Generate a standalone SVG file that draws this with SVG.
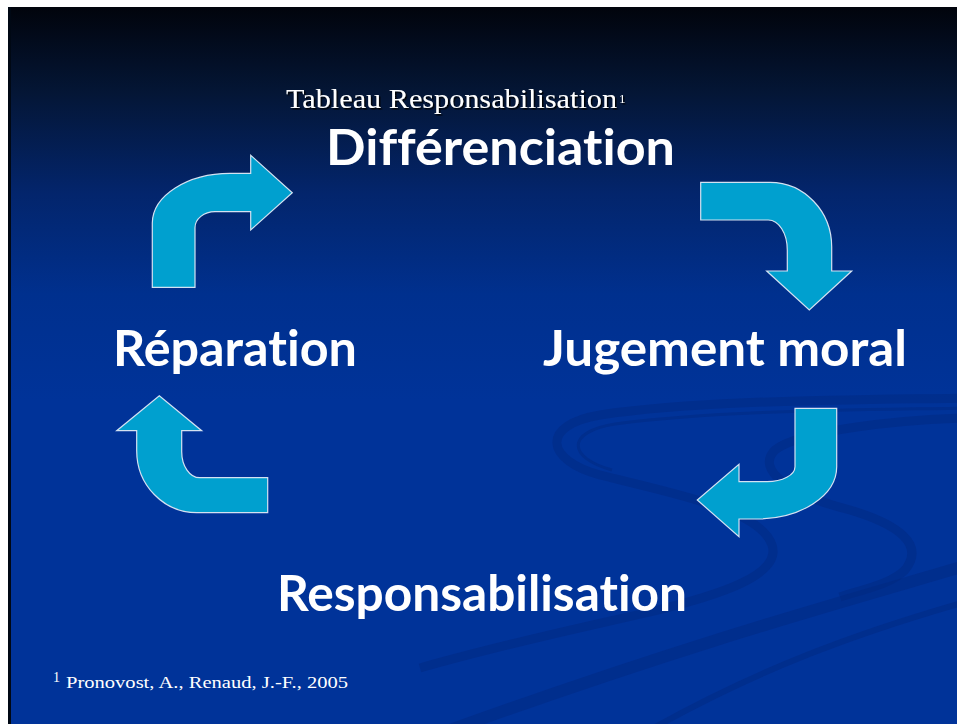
<svg xmlns="http://www.w3.org/2000/svg" width="959" height="724" viewBox="0 0 959 724">
  <defs>
    <linearGradient id="bg" gradientUnits="userSpaceOnUse" x1="0" y1="7" x2="0" y2="724">
      <stop offset="0" stop-color="#01040c"/>
      <stop offset="0.12" stop-color="#041636"/>
      <stop offset="0.26" stop-color="#03256c"/>
      <stop offset="0.40" stop-color="#00308e"/>
      <stop offset="0.55" stop-color="#003399"/>
      <stop offset="1" stop-color="#003399"/>
    </linearGradient>
    <clipPath id="slide">
      <rect x="11" y="7" width="946" height="717"/>
    </clipPath>
    <filter id="shadow" x="-5%" y="-20%" width="110%" height="140%">
      <feDropShadow dx="1.5" dy="1.5" stdDeviation="0.6" flood-color="#000000" flood-opacity="0.9"/>
    </filter>
  </defs>
  <style>
    .arrow { fill: #00a0cf; stroke: #d4e2f2; stroke-width: 1.2; stroke-linejoin: miter; }
    .label { font-family: "Lato", "Open Sans", "DejaVu Sans", sans-serif; font-weight: bold; font-size: 49px; fill: #ffffff; font-variant-ligatures: none; }
    .serif { font-family: "Liberation Serif", "Times New Roman", serif; fill: #ffffff; }
    .swoosh { fill: none; stroke: #00287f; stroke-linecap: butt; opacity: 0.45; }
  </style>

  <!-- page margin and slide background -->
  <rect x="0" y="0" width="959" height="724" fill="#ffffff"/>
  <rect x="8" y="7" width="949" height="717" fill="url(#bg)"/>
  <rect x="8" y="7" width="3" height="717" fill="#000814"/>

  <!-- decorative swooshes of the slide design -->
  <g id="swooshes" clip-path="url(#slide)">
    <path class="swoosh" stroke-width="9" d="M965,398 C850,400 700,400 600,415 C540,425 545,460 600,475 C680,495 760,510 772,545 C782,575 720,595 650,612 C580,628 500,645 420,668"/>
    <path class="swoosh" stroke-width="3" d="M965,408 C860,410 720,410 615,424 C565,432 568,458 612,470"/>
    <path class="swoosh" stroke-width="9" d="M965,418 C900,420 800,430 775,450 C755,470 790,495 850,510 C900,525 925,545 905,570 C890,585 860,590 840,597"/>
    <path class="swoosh" stroke-width="12" d="M965,566 C850,600 700,640 450,730"/>
    <path class="swoosh" stroke-width="6" d="M965,602 C860,632 760,668 650,730"/>
  </g>

  <!-- title -->
  <g id="title" filter="url(#shadow)">
    <text class="serif" x="286" y="108" font-size="28" textLength="331" lengthAdjust="spacingAndGlyphs">Tableau Responsabilisation</text>
    <text class="serif" x="619" y="103" font-size="13">1</text>
  </g>

  <!-- cycle stages -->
  <g id="node-differenciation">
    <text class="label" x="326" y="165" textLength="349" lengthAdjust="spacingAndGlyphs">Différenciation</text>
  </g>
  <g id="node-jugement">
    <text class="label" x="543" y="366" textLength="364" lengthAdjust="spacingAndGlyphs">Jugement moral</text>
  </g>
  <g id="node-responsabilisation">
    <text class="label" x="277" y="611" textLength="410" lengthAdjust="spacingAndGlyphs">Responsabilisation</text>
  </g>
  <g id="node-reparation">
    <text class="label" x="113" y="366" textLength="244" lengthAdjust="spacingAndGlyphs">Réparation</text>
  </g>

  <!-- bent arrows linking the stages -->
  <g id="connectors">
    <path class="arrow" d="M152.3,287.3 L152.3,223 A78,50 0 0 1 230,173.3 L250.7,173.3 L250.7,155.3 L292.3,192.7 L250.7,230 L250.7,211.7 L215,211.7 A20,16 0 0 0 195,227.7 L195,287.3 Z"/>
    <path class="arrow" d="M700.7,182.3 L770,182.3 A61.7,64.7 0 0 1 831.7,247 L831.7,271 L851.7,271 L809.3,310 L766.7,271 L787.3,271 L787.3,250 A19,30 0 0 0 768.3,220 L700.7,220 Z"/>
    <path class="arrow" d="M795,408.3 L836.7,408.3 L836.7,466.7 A80,52.3 0 0 1 756.7,519 L739,519 L739,536.7 L697.3,500 L739,464.3 L739,481.7 L767,481.7 A28,15 0 0 0 795,466.7 Z"/>
    <path class="arrow" d="M267.7,477.7 L267.7,512.7 L196.7,512.7 A60,62 0 0 1 136.7,450.7 L136.7,430.7 L116.7,430.7 L159.3,395.7 L201.7,430.7 L181.7,430.7 L181.7,451.7 A18,26 0 0 0 199.7,477.7 Z"/>
  </g>

  <!-- reference note -->
  <g id="footnote">
    <text class="serif" x="53" y="682" font-size="14">1</text>
    <text class="serif" x="66" y="688" font-size="17" textLength="282" lengthAdjust="spacingAndGlyphs">Pronovost, A., Renaud, J.-F., 2005</text>
  </g>
</svg>
